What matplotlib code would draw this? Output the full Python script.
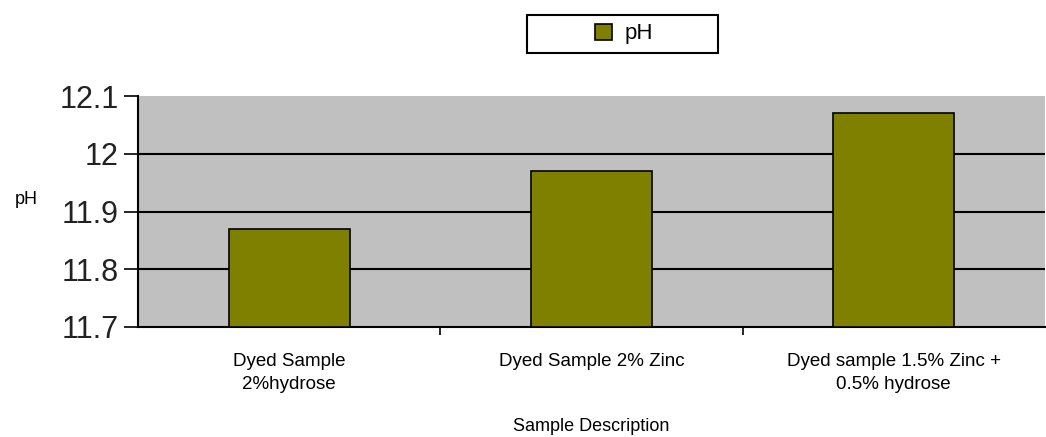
import matplotlib.pyplot as plt
from matplotlib.patches import Rectangle
import numpy as np

plt.rcParams['font.family'] = ['Liberation Sans', 'DejaVu Sans']

# Data
categories = ['Dyed Sample\n2%hydrose', 'Dyed Sample 2% Zinc',
              'Dyed sample 1.5% Zinc +\n0.5% hydrose']
ph_values = [11.87, 11.97, 12.07]
y_ticks = [11.7, 11.8, 11.9, 12.0, 12.1]
y_tick_labels = ['11.7', '11.8', '11.9', '12', '12.1']

W, H = 1046, 437
fig = plt.figure(figsize=(W / 100, H / 100), dpi=100)
ax = fig.add_axes([0.132, 0.252, 0.867, 0.528])
ax.set_facecolor('#C0C0C0')

x = np.arange(len(categories))
ax.bar(x, [v - y_ticks[0] for v in ph_values], bottom=y_ticks[0], width=0.4,
       color='#808000', edgecolor='black', linewidth=1.2, label='pH', zorder=3)

ax.set_xlim(-0.5, len(categories) - 0.5)
ax.set_ylim(y_ticks[0], y_ticks[-1])
ax.set_yticks(y_ticks)
ax.set_yticklabels(y_tick_labels, fontsize=22, color='#222222')
ax.tick_params(axis='y', length=10, width=1.2, pad=4)

# gridlines only between the limits (no line along the top edge)
for t in y_ticks[1:-1]:
    ax.axhline(t, color='black', linewidth=1.5, zorder=1)

ax.set_xticks(x)
ax.set_xticklabels(categories, fontsize=13.5, linespacing=1.45)
ax.tick_params(axis='x', which='major', length=0, pad=19)
ax.set_xticks(np.arange(0.5, len(categories) - 0.5, 1), minor=True)
ax.tick_params(axis='x', which='minor', length=6, width=1.2)

for side in ['top', 'right']:
    ax.spines[side].set_visible(False)
ax.spines['left'].set_linewidth(1.5)
ax.spines['bottom'].set_linewidth(1.5)

ax.set_xlabel('Sample Description', fontsize=13, labelpad=20)
ax.xaxis.set_label_coords(0.5, -0.395)
ax.set_ylabel('pH', fontsize=13, rotation=0)
ax.yaxis.set_label_coords(-0.123, 0.515)

# legend box
fig.patches.append(Rectangle((527 / W, 1 - 53 / H), 191 / W, 38 / H,
                             transform=fig.transFigure, facecolor='white',
                             edgecolor='black', linewidth=1.5))
fig.legend(loc='center', bbox_to_anchor=(624 / W, 1 - 34 / H), fontsize=16,
           frameon=False, handlelength=0.75, handleheight=0.75,
           handletextpad=0.55, borderaxespad=0)

fig.savefig('out.png', dpi=100)
